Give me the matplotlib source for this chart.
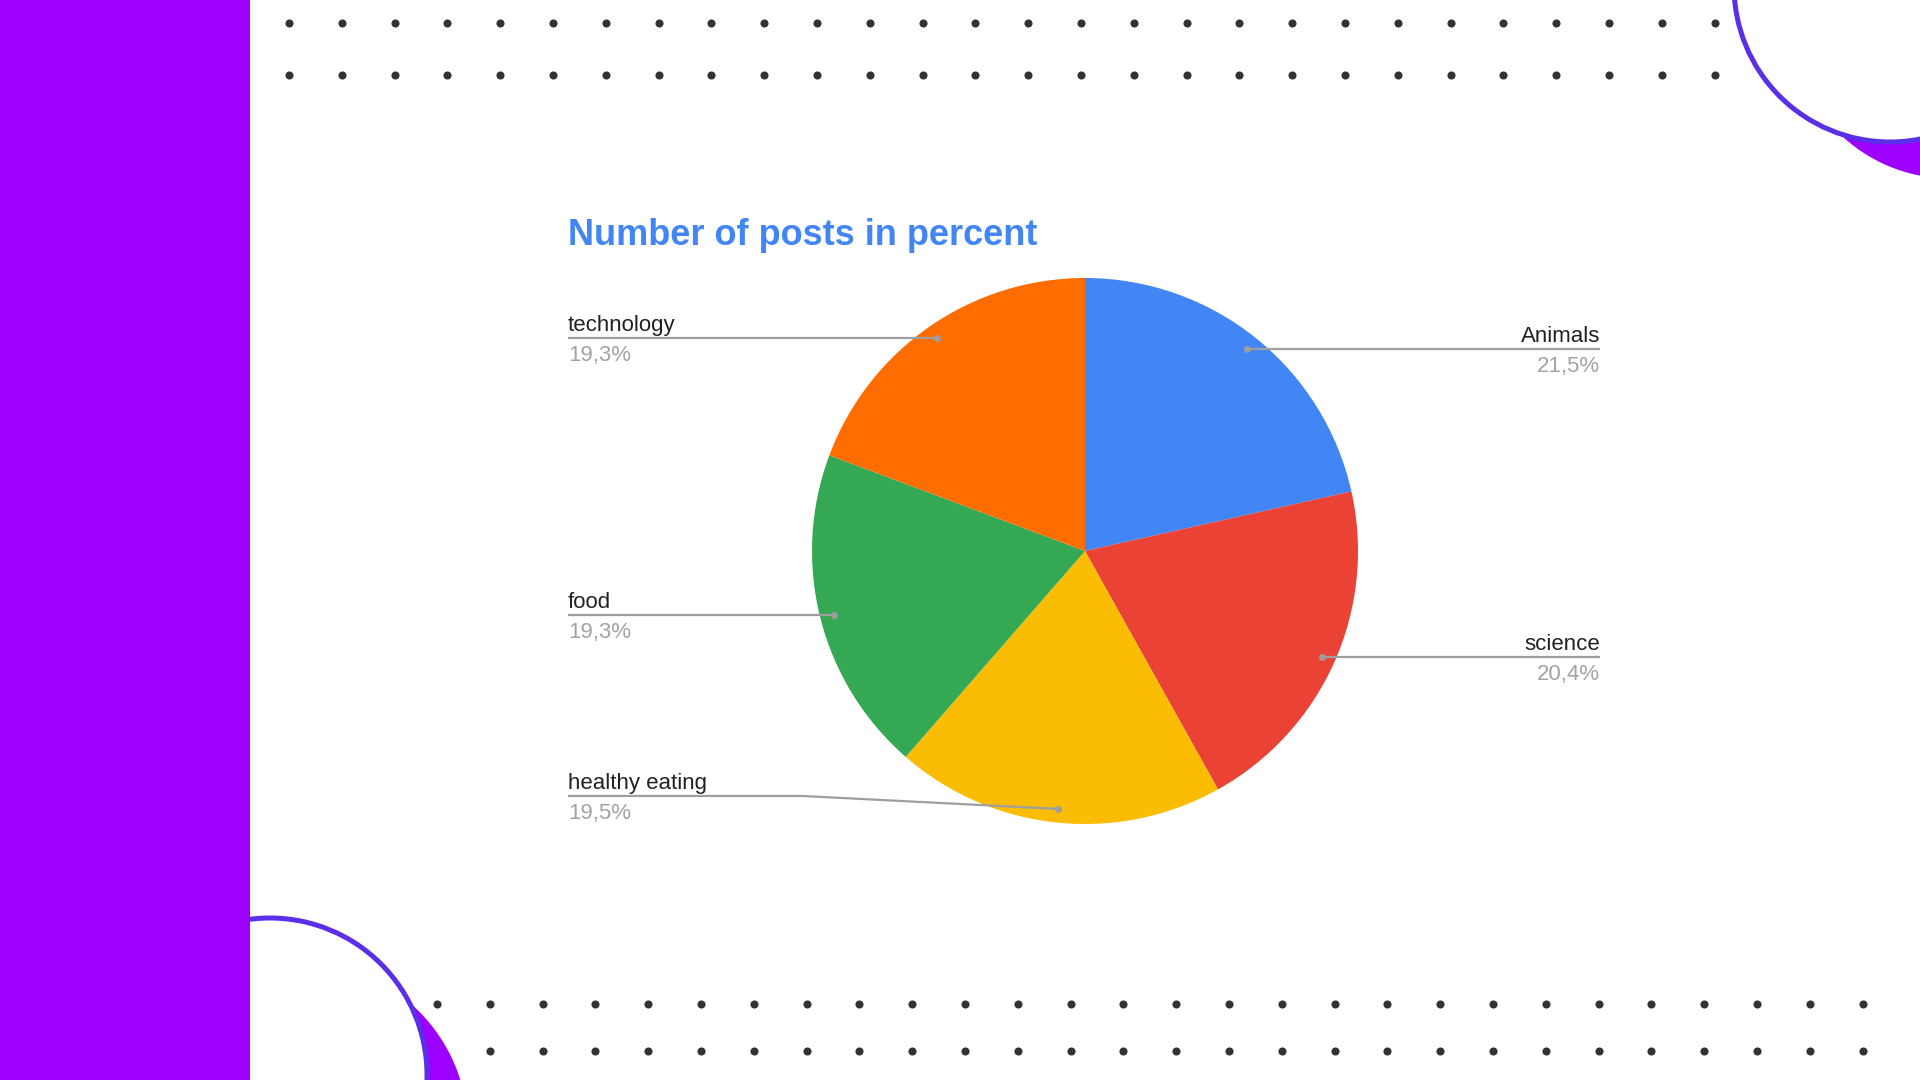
import matplotlib
matplotlib.use('Agg')
import matplotlib.pyplot as plt
from matplotlib.patches import Circle, Rectangle
import numpy as np

# ---- data ----
categories = ['Animals', 'science', 'healthy eating', 'food', 'technology']
shares = [21.5, 20.4, 19.5, 19.3, 19.3]
colors = ['#4285F4', '#EA4335', '#FBBC04', '#34A853', '#FF6D01']
title = 'Number of posts in percent'

plt.rcParams['font.family'] = ['Liberation Sans', 'DejaVu Sans']

W, H = 1920, 1080
fig = plt.figure(figsize=(19.2, 10.8), dpi=100)
fig.patch.set_facecolor('white')

# ---- background decoration (pixel coordinates) ----
bg = fig.add_axes([0, 0, 1, 1])
bg.set_xlim(0, W)
bg.set_ylim(H, 0)
bg.axis('off')

dot_color = '#333333'
step = 52.8
xs_top = 289 + step * np.arange(28)
for y in (23, 75):
    bg.scatter(xs_top, np.full(xs_top.shape, y), s=34, color=dot_color, zorder=1, linewidths=0)
xs_bot = 437 + step * np.arange(28)
for y in (1004, 1051):
    bg.scatter(xs_bot, np.full(xs_bot.shape, y), s=34, color=dot_color, zorder=1, linewidths=0)

violet = '#9D00FF'
stroke = '#5B2EE8'
# top-right
bg.add_patch(Circle((1950, 20), 158.5, facecolor=violet, edgecolor='none', zorder=2))
bg.add_patch(Circle((1890, -14), 156, facecolor='white', edgecolor=stroke, lw=3.6, zorder=3))
# bottom-left
bg.add_patch(Circle((300, 1130), 168, facecolor=violet, edgecolor='none', zorder=2))
bg.add_patch(Circle((270, 1075), 157, facecolor='white', edgecolor=stroke, lw=3.6, zorder=3))
# left bar
bg.add_patch(Rectangle((0, 0), 250, H, facecolor=violet, edgecolor='none', zorder=4))

# ---- pie ----
cx, cy, R = 1085, 551, 273
pax = fig.add_axes([(cx - R) / W, (H - cy - R) / H, 2 * R / W, 2 * R / H])
wedges, _ = pax.pie(shares, colors=colors, startangle=90, counterclock=False,
                    radius=1, wedgeprops=dict(linewidth=0))
pax.set_xlim(-1, 1)
pax.set_ylim(-1, 1)
pax.set_aspect('equal')
pax.axis('off')

# ---- overlay: title, labels, leader lines ----
ov = fig.add_axes([0, 0, 1, 1])
ov.set_xlim(0, W)
ov.set_ylim(H, 0)
ov.axis('off')
ov.patch.set_alpha(0)

ov.text(568, 245, title, fontsize=26, fontweight='bold', color='#4285F4',
        ha='left', va='baseline')

to_px = pax.transData + ov.transData.inverted()
left_x, right_x = 568, 1600
label_lift = {'healthy eating': 13}
elbow_x = {'healthy eating': 802}
line_col = '#9E9E9E'

for w, name, val in zip(wedges, categories, shares):
    th = np.deg2rad((w.theta1 + w.theta2) / 2)
    px, py = to_px.transform((0.95 * np.cos(th), 0.95 * np.sin(th)))
    left = np.cos(th) < 0
    tx = left_x if left else right_x
    ly = py - label_lift.get(name, 0)
    if name in elbow_x:
        xs = [tx, elbow_x[name], px]
        ys = [ly, ly, py]
    else:
        xs = [tx, px]
        ys = [ly, py]
    ov.plot(xs, ys, color=line_col, lw=1.6, solid_capstyle='butt')
    ov.plot([px], [py], 'o', color=line_col, ms=5, mew=0)
    ha = 'left' if left else 'right'
    ov.text(tx, ly - 7, name, fontsize=16, color='#222222', ha=ha, va='baseline')
    pct = f'{val:.1f}'.replace('.', ',') + '%'
    ov.text(tx, ly + 23, pct, fontsize=16, color='#A3A3A3', ha=ha, va='baseline')

fig.savefig('out.png', dpi=100, facecolor='white')
